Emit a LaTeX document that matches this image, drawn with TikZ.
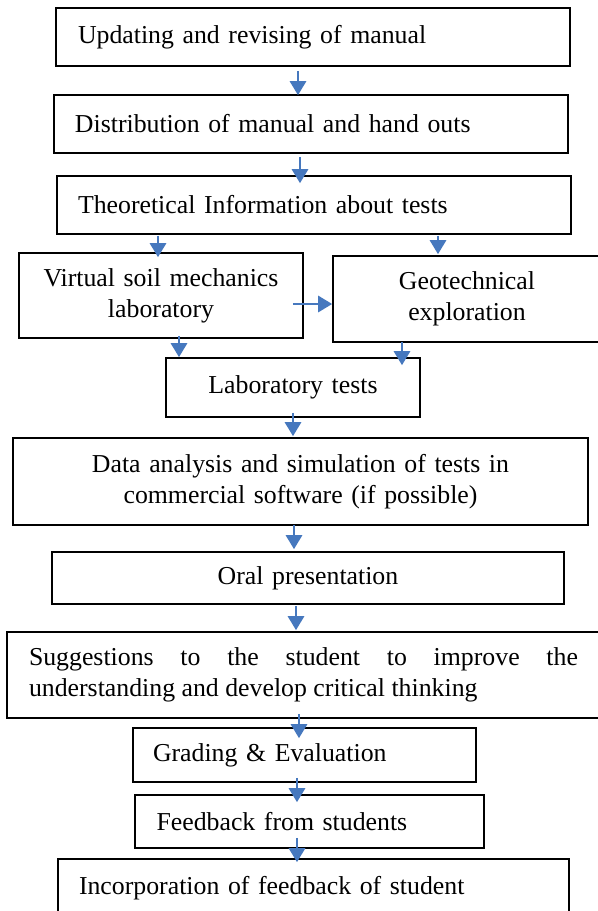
\documentclass[tikz,border=0pt]{standalone}
\usepackage{fontspec}
\setmainfont{Liberation Serif}
\usetikzlibrary{arrows.meta}
\definecolor{flowblue}{RGB}{70,120,190}
\hyphenpenalty=10000
\tolerance=10000
\tikzset{
	box/.style={draw, line width=0.8pt, inner ysep=0pt, font=\fontsize{12.9}{15.5}\selectfont},
	cbox/.style={box, inner xsep=0pt, align=center},
	lbox/.style={box, align=left},
	flow/.style={draw=flowblue, line width=1.4pt, -{Triangle[width=8pt,length=7pt]}, flowblue}
}
\begin{document}
\begin{tikzpicture}[x=0.5pt,y=-0.5pt]
	\useasboundingbox (0,0) rectangle (598,911);
	% main column
	\node[lbox, inner xsep=11pt, text width=235pt, minimum height=29pt] (b1) at (313,37) {Updating and revising of manual};
	\node[lbox, inner xsep=10.5pt, text width=236pt, minimum height=29pt] (b2) at (311,124) {Distribution of manual and hand outs};
	\node[lbox, inner xsep=10.5pt, text width=236pt, minimum height=29pt] (b3) at (314,205) {Theoretical Information about tests};
	\node[cbox, text width=142pt, minimum height=42.5pt] (vsl) at (161,295.5) {Virtual soil mechanics\\laboratory};
	\node[cbox, text width=134pt, minimum height=43pt] (geo) at (467,299) {Geotechnical\\exploration};
	\node[cbox, text width=127pt, minimum height=29.5pt] (lab) at (293,387.5) {Laboratory tests};
	\node[cbox, text width=287.5pt, minimum height=43.5pt] (data) at (300.5,481.5) {Data analysis and simulation of tests in\\commercial software (if possible)};
	\node[cbox, text width=256pt, minimum height=26pt] (oral) at (308,578) {Oral presentation};
	\node[box, align=justify, inner xsep=11pt, text width=274.5pt, minimum height=43pt] (sug) at (303.5,675) {Suggestions to the student to improve the understanding and develop critical thinking};
	\node[lbox, inner xsep=10pt, text width=151.5pt, minimum height=27pt] (grad) at (304.5,755) {Grading \& Evaluation};
	\node[lbox, inner xsep=10.75pt, text width=153pt, minimum height=26.5pt] (fb) at (309.5,821.5) {Feedback from students};
	\node[lbox, inner xsep=10.5pt, text width=234.5pt, minimum height=29pt] (inc) at (313.5,888) {Incorporation of feedback of student};
	% arrows
	\foreach \s/\sx/\sy/\t/\tx/\ty in {b1/-7.5/-2/b2/-6.5/-0.5, b2/-5.5/-1.5/b3/-7/-4,
		b3/-78/-0.5/vsl/-1.5/-2.5, b3/62/-0.5/geo/-14.5/0.5, vsl/9/1.5/lab/-57/0,
		geo/-32.5/0.5/lab/54.5/-4, lab/0/2.5/data/-3.75/0.5, data/-3.25/0.5/oral/-7/1,
		oral/-6/-0.5/sug/-3.75/0.5, sug/-2.25/2.5/grad/-2.75/-5.5,
		grad/-3.75/2.5/fb/-6.25/-4, fb/-6.25/5.5/inc/-8.25/-2}
		\draw[flow] ([xshift=\sx pt,yshift=\sy pt]\s.south) -- ([xshift=\tx pt,yshift=\ty pt]\t.north);
	\draw[flow] ([xshift=-5.5pt,yshift=-4.25pt]vsl.east) -- ([yshift=-2.5pt]geo.west);
\end{tikzpicture}
\end{document}
